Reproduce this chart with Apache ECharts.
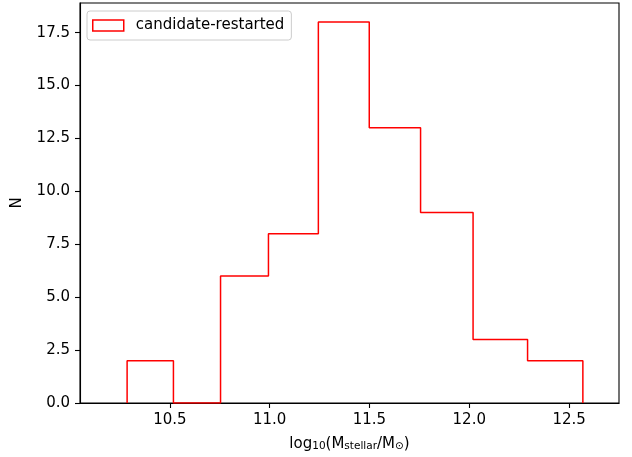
<!DOCTYPE html>
<html>
<head>
<meta charset="utf-8">
<script src="https://cdn.jsdelivr.net/npm/echarts@6/dist/echarts.min.js"></script>
<style>
  html, body { margin: 0; padding: 0; background: #fff; }
  #chart { width: 632px; height: 457px; }
</style>
</head>
<body>
<div id="chart"></div>
<script>
// Histogram of stellar masses for the candidate-restarted sample
const seriesName = 'candidate-restarted';
const binEdges = [10.286, 10.518, 10.754, 10.994, 11.244, 11.499, 11.756, 12.019, 12.292, 12.569];
const binCounts = [2, 0, 6, 8, 18, 13, 9, 3, 2];
const xTicks = [10.5, 11.0, 11.5, 12.0, 12.5];
const yTicks = [0, 2.5, 5, 7.5, 10, 12.5, 15, 17.5];

// Unfilled step outline: up from zero at the first edge, across each bin, down to zero at the last edge
const stepPoints = [[binEdges[0], 0]];
binCounts.forEach((c, i) => {
  stepPoints.push([binEdges[i], c]);
  stepPoints.push([binEdges[i + 1], c]);
});
stepPoints.push([binEdges[binEdges.length - 1], 0]);

const FONT = 'DejaVu Sans';
const FS = 15;

const chart = echarts.init(document.getElementById('chart'), null, { renderer: 'canvas' });
chart.setOption({
  animation: false,
  backgroundColor: '#ffffff',
  textStyle: { fontFamily: FONT },
  grid: {
    left: 80, right: 13, top: 3, bottom: 52,
    show: true, borderColor: '#000', borderWidth: 1.1, backgroundColor: 'transparent'
  },
  legend: {
    left: 87, top: 11,
    orient: 'vertical',
    backgroundColor: '#ffffff',
    borderColor: '#cccccc',
    borderWidth: 1,
    borderRadius: 3,
    padding: [7, 7, 7, 5],
    itemWidth: 31,
    itemHeight: 11,
    textStyle: { fontFamily: FONT, fontSize: FS, color: '#000', padding: [0, 0, 0, 7] },
    data: [{
      name: seriesName,
      icon: 'rect',
      itemStyle: { color: 'transparent', borderColor: '#ff0000', borderWidth: 1.5 }
    }]
  },
  xAxis: {
    type: 'value',
    min: 10.05, max: 12.75,
    name: 'log{sub|10}(M{sub|stellar}/M{sub|⊙})',
    nameLocation: 'middle',
    nameGap: 33,
    nameTextStyle: {
      fontFamily: FONT, fontSize: FS, color: '#000',
      rich: {
        sub: { fontFamily: FONT, fontSize: 10.5, color: '#000', verticalAlign: 'bottom', padding: [5, 0, 0, 0] }
      }
    },
    splitLine: { show: false },
    axisLine: { show: true, onZero: false, lineStyle: { color: '#000', width: 1.1 } },
    axisTick: { show: true, inside: false, length: 5, customValues: xTicks, lineStyle: { color: '#000', width: 1.1 } },
    axisLabel: {
      customValues: xTicks, margin: 10,
      fontFamily: FONT, fontSize: FS, color: '#000',
      formatter: v => v.toFixed(1)
    }
  },
  yAxis: {
    type: 'value',
    min: 0, max: 18.9,
    name: 'N',
    nameLocation: 'middle',
    nameGap: 55,
    nameTextStyle: { fontFamily: FONT, fontSize: FS, color: '#000' },
    splitLine: { show: false },
    axisLine: { show: true, onZero: false, lineStyle: { color: '#000', width: 1.1 } },
    axisTick: { show: true, inside: false, length: 5, customValues: yTicks, lineStyle: { color: '#000', width: 1.1 } },
    axisLabel: {
      customValues: yTicks, margin: 10,
      fontFamily: FONT, fontSize: FS, color: '#000',
      formatter: v => v.toFixed(1)
    }
  },
  series: [{
    name: seriesName,
    type: 'line',
    data: stepPoints,
    showSymbol: false,
    symbol: 'none',
    lineStyle: { color: '#ff0000', width: 1.5 },
    itemStyle: { color: '#ff0000' },
    z: 3
  }]
});
</script>
</body>
</html>
